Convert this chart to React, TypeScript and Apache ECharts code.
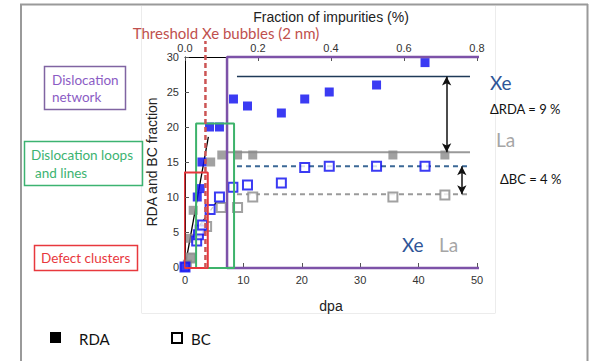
import React, { useEffect, useRef } from "react";
import * as echarts from "echarts";

// ---- data ----
const rdaXeDpa = [0, 2.1, 2.6, 2.9, 4.2, 5.9, 8.3, 10.7, 16.5, 20.5, 24.7, 32.8, 41.1];
const rdaXeVal = [0, 10, 11.2, 15, 20, 20, 24, 23, 22, 24, 25, 26, 29.2];
const bcXeDpa = [0, 2.0, 2.3, 2.6, 3.0, 4.3, 5.9, 8.2, 10.7, 16.5, 20.5, 24.7, 32.8, 41.1];
const bcXeVal = [0, 3.7, 4.6, 5.3, 6.0, 8.2, 10.0, 11.4, 11.7, 12.0, 14.2, 14.4, 14.4, 14.4];
const rdaLaDpa = [0.4, 1.1, 0.9, 1.4, 4.4, 6.3, 9.0, 11.6, 35.6, 44.5];
const rdaLaVal = [0.4, 1.3, 4.1, 8.1, 15, 16, 16, 16, 16, 16];
const bcLaDpa = [1.0, 3.7, 6.2, 9.0, 11.6, 35.6, 44.5];
const bcLaVal = [1.3, 5.8, 8.5, 8.5, 10.0, 10.0, 10.3];

// saturation levels
const xeRdaLevel = 27.2;
const laRdaLevel = 16.4;
const xeBcLevel = 14.4;
const laBcLevel = 10.4;

// regions (dpa / fraction)
const networkBox = { x0: 7.2, x1: 50.9, y0: -0.15, y1: 30 };
const loopsBox = { x0: 1.9, x1: 8.4, y0: -0.15, y1: 20.5 };
const clustersBox = { x0: -0.1, x1: 3.9, y0: -0.15, y1: 13.5 };
const thresholdDpa = 3.5;

const dpaTicks = { min: 0, max: 50, interval: 10 };
const fracTicks = { min: 0, max: 0.8, interval: 0.2 };
const valTicks = { min: 0, max: 30, interval: 5 };

const pairs = (xs: number[], ys: number[]) => xs.map((x, i) => [x, ys[i]]);
const box = (b: { x0: number; x1: number; y0: number; y1: number }) => [
  [b.x0, b.y0],
  [b.x0, b.y1],
  [b.x1, b.y1],
  [b.x1, b.y0],
  [b.x0, b.y0],
];

const BLUE = "#0a0af0";
const GREY = "#8a8a8a";
const LATO = "Lato, 'Open Sans', sans-serif";
const ARIAL = "'Liberation Sans', Arial, sans-serif";

function lineSeries(data: number[][], color: string, width: number, type: any = "solid", z = 2) {
  return {
    type: "line",
    data,
    symbol: "none",
    clip: false,
    silent: true,
    z,
    lineStyle: { color, width, type },
  };
}

function txt(text: string, x: number, y: number, fill: string, size: number, family = LATO, align = "left") {
  return {
    type: "text",
    x,
    y,
    silent: true,
    z: 10,
    style: {
      text,
      fill,
      font: `${size}px ${family}`,
      align,
      textAlign: align,
      verticalAlign: "middle",
      textVerticalAlign: "middle",
    },
  };
}

function rectG(x: number, y: number, w: number, h: number, stroke: string, lw = 1.5, fill = "none") {
  return {
    type: "rect",
    silent: true,
    z: 9,
    shape: { x, y, width: w, height: h },
    style: { fill, stroke, lineWidth: lw },
  };
}

export default function App() {
  const ref = useRef<HTMLDivElement>(null);
  useEffect(() => {
    if (!ref.current) return;
    const chart = echarts.init(ref.current, undefined, { renderer: "svg" });
    const axisLabel = { fontSize: 11, color: "#333", fontFamily: ARIAL };
    chart.setOption({
      animation: false,
      backgroundColor: "#fff",
      grid: { left: 185, right: 112, top: 57, bottom: 94, containLabel: false },
      xAxis: [
        {
          type: "value",
          position: "bottom",
          ...dpaTicks,
          axisLine: { show: false },
          axisTick: { inside: true, length: 4, lineStyle: { color: "#555" } },
          axisLabel: { ...axisLabel, margin: 7 },
          splitLine: { show: false },
          name: "dpa",
          nameLocation: "middle",
          nameGap: 32,
          nameTextStyle: { fontSize: 14, color: "#222", fontFamily: ARIAL },
        },
        {
          type: "value",
          position: "top",
          ...fracTicks,
          axisLine: { show: true, lineStyle: { color: "#000", width: 1 } },
          axisTick: { inside: true, length: 4, lineStyle: { color: "#555" } },
          axisLabel: { ...axisLabel, margin: 4, formatter: (v: number) => v.toFixed(1) },
          splitLine: { show: false },
          name: "Fraction of impurities (%)",
          nameLocation: "middle",
          nameGap: 33,
          nameTextStyle: { fontSize: 14, color: "#222", fontFamily: ARIAL },
        },
      ],
      yAxis: {
        type: "value",
        ...valTicks,
        axisLine: { show: true, lineStyle: { color: "#000", width: 1 } },
        axisTick: { inside: true, length: 4, lineStyle: { color: "#555" } },
        axisLabel: { ...axisLabel, margin: 6 },
        splitLine: { show: false },
        name: "RDA and BC fraction",
        nameLocation: "middle",
        nameGap: 26,
        nameTextStyle: { fontSize: 14, color: "#222", fontFamily: ARIAL },
      },
      series: [
        // saturation lines
        lineSeries([[8.9, xeRdaLevel], [48.8, xeRdaLevel]], "#1f3a58", 1.5),
        lineSeries([[7.2, laRdaLevel], [48.8, laRdaLevel]], "#9a9a9a", 2),
        lineSeries([[8.9, xeBcLevel], [48.8, xeBcLevel]], "#3b6896", 2, [5, 4]),
        lineSeries([[8.9, laBcLevel], [48.8, laBcLevel]], "#9a9a9a", 2, [5, 4]),
        // initial slopes
        lineSeries([[0, 0], [4.0, 18.6]], "#000", 1.3),
        lineSeries([[2.6, 6.0], [5.4, 9.3]], "#000", 1.3, [4, 2]),
        // scatter points
        {
          type: "scatter",
          data: pairs(bcLaDpa, bcLaVal),
          symbol: "rect",
          symbolSize: 9,
          z: 3,
          itemStyle: { color: "#fff", borderColor: GREY, borderWidth: 2 },
        },
        {
          type: "scatter",
          data: pairs(rdaLaDpa, rdaLaVal),
          symbol: "rect",
          symbolSize: 9,
          z: 3,
          itemStyle: { color: GREY },
        },
        {
          type: "scatter",
          data: pairs(bcXeDpa, bcXeVal),
          symbol: "rect",
          symbolSize: 9,
          z: 4,
          itemStyle: { color: "#fff", borderColor: BLUE, borderWidth: 2 },
        },
        {
          type: "scatter",
          data: pairs(rdaXeDpa, rdaXeVal),
          symbol: "rect",
          symbolSize: 9,
          z: 4,
          itemStyle: { color: BLUE },
        },
        // regions
        lineSeries(box(networkBox), "#7d52a8", 2.5, "solid", 5),
        lineSeries(box(loopsBox), "#3db36b", 2, "solid", 5),
        lineSeries(box(clustersBox), "#e8383d", 2, "solid", 5),
        lineSeries([[thresholdDpa, -0.15], [thresholdDpa, 32.3]], "#cc5555", 2.5, [5, 3], 6),
        // double arrows
        {
          type: "line",
          data: [],
          symbol: "none",
          markLine: {
            silent: true,
            symbol: ["arrow", "arrow"],
            symbolSize: [7, 9],
            label: { show: false },
            lineStyle: { color: "#111", type: "solid", width: 1.5 },
            data: [
              [{ coord: [44.8, xeRdaLevel] }, { coord: [44.8, laRdaLevel] }],
              [{ coord: [47.4, xeBcLevel] }, { coord: [47.4, laBcLevel] }],
            ],
          },
        },
      ],
      graphic: [
        // outer frame
        { type: "line", silent: true, shape: { x1: 21, y1: 4, x2: 21, y2: 361 }, style: { stroke: "#9a9a9a", lineWidth: 2 } },
        { type: "line", silent: true, shape: { x1: 20, y1: 4.5, x2: 588, y2: 4.5 }, style: { stroke: "#9a9a9a", lineWidth: 2 } },
        { type: "line", silent: true, shape: { x1: 587.5, y1: 4, x2: 587.5, y2: 361 }, style: { stroke: "#9a9a9a", lineWidth: 2 } },
        // faint chart area
        { type: "line", silent: true, shape: { x1: 141.5, y1: 6, x2: 141.5, y2: 313 }, style: { stroke: "#ececec", lineWidth: 1 } },
        { type: "line", silent: true, shape: { x1: 495.5, y1: 6, x2: 495.5, y2: 313 }, style: { stroke: "#ececec", lineWidth: 1 } },
        { type: "line", silent: true, shape: { x1: 141.5, y1: 313.5, x2: 495.5, y2: 313.5 }, style: { stroke: "#ececec", lineWidth: 1 } },
        // threshold label
        txt("Threshold Xe bubbles (2 nm)", 226, 33, "#c0504d", 15, LATO, "center"),
        // left labels
        rectG(44.5, 66.5, 81, 43, "#8064a2"),
        txt("Dislocation", 52, 80, "#8b5cc4", 13.5),
        txt("network", 52, 97, "#8b5cc4", 13.5),
        rectG(24.5, 141.5, 118, 44, "#3cb371"),
        txt("Dislocation loops", 31, 155, "#3cb371", 13.5),
        txt("and lines", 35, 173, "#3cb371", 13.5),
        rectG(34.5, 245.5, 103, 25, "#e8383d"),
        txt("Defect clusters", 41, 257.5, "#e8383d", 13.5),
        // right annotations
        txt("Xe", 490, 82, "#2f5597", 19),
        txt("\u0394RDA = 9 %", 490, 109, "#111", 13),
        txt("La", 496, 139, "#a6a6a6", 19),
        txt("\u0394BC = 4 %", 500, 179, "#111", 13),
        txt("Xe", 402, 244, "#2f5597", 19),
        txt("La", 439, 244, "#a6a6a6", 19),
        // legend
        { type: "rect", silent: true, shape: { x: 50, y: 332, width: 11, height: 11 }, style: { fill: "#000" } },
        txt("RDA", 79, 339, "#111", 15),
        { type: "rect", silent: true, shape: { x: 172, y: 333, width: 10, height: 10 }, style: { fill: "#fff", stroke: "#000", lineWidth: 2 } },
        txt("BC", 191, 339, "#111", 15),
      ],
    });
    return () => chart.dispose();
  }, []);
  return (
    <div
      ref={ref}
      style={{ position: "fixed", left: 0, top: 0, width: 589, height: 361, background: "#fff" }}
    />
  );
}
